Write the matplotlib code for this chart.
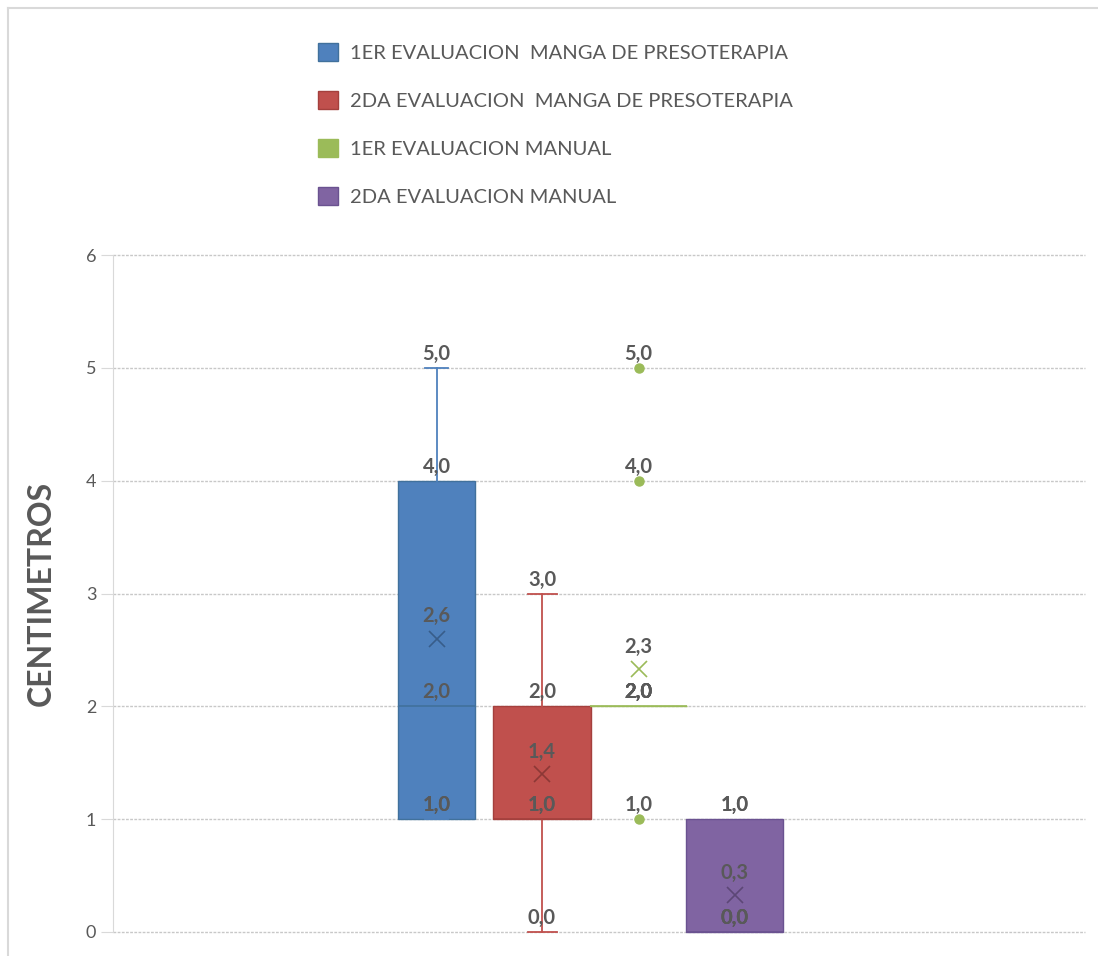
import matplotlib.pyplot as plt
from matplotlib.patches import Patch
from matplotlib.lines import Line2D

plt.rcParams['font.family'] = ['Lato', 'DejaVu Sans']

# five-number summaries per series (Excel box & whisker, one category)
series = ['1ER EVALUACION  MANGA DE PRESOTERAPIA',
          '2DA EVALUACION  MANGA DE PRESOTERAPIA',
          '1ER EVALUACION MANUAL',
          '2DA EVALUACION MANUAL']
mins = [1.0, 0.0, 2.0, 0.0]
q1s = [1.0, 1.0, 2.0, 0.0]
medians = [2.0, 1.0, 2.0, 0.0]
q3s = [4.0, 2.0, 2.0, 1.0]
maxs = [5.0, 3.0, 2.0, 1.0]
means = [2.6, 1.4, 2.33, 0.33]
outliers = [[], [], [1.0, 4.0, 5.0], []]
yticks = [0, 1, 2, 3, 4, 5, 6]

fills = ['#4F81BD', '#C0504D', '#9BBB59', '#8064A2']
edges = ['#41719C', '#A4403D', '#9BBB59', '#6A5290']
mean_cols = ['#385D8A', '#8C3836', '#9BBB59', '#5C4776']
txt = '#595959'
light = '#D9D9D9'

W, H = 1098, 956
fig = plt.figure(figsize=(W / 100, H / 100), dpi=100)
ax = fig.add_axes([113 / W, 24 / H, 972 / W, 677 / H])

# x runs in plot pixels so boxes sit where Excel put them
pos = [436.5, 542, 638.5, 734.5]
widths = [77, 98, 97, 97]
caps = [23, 29, 0, 0]

stats = []
for i in range(len(series)):
    stats.append(dict(med=medians[i], q1=q1s[i], q3=q3s[i], whislo=mins[i],
                      whishi=maxs[i], mean=means[i], fliers=outliers[i],
                      label=series[i]))

bp = ax.bxp(stats, positions=pos, widths=widths, capwidths=caps,
            patch_artist=True, showmeans=True, manage_ticks=False,
            meanprops=dict(marker='x', markersize=11, markeredgewidth=1.2),
            flierprops=dict(marker='o', markersize=6.5,
                            markerfacecolor='#9BBB59', markeredgecolor='#9BBB59'))

for i in range(len(series)):
    bp['boxes'][i].set_facecolor(fills[i])
    bp['boxes'][i].set_edgecolor(edges[i])
    bp['boxes'][i].set_linewidth(1)
    bp['medians'][i].set_color(edges[i])
    bp['medians'][i].set_linewidth(1.2)
    bp['means'][i].set_markeredgecolor(mean_cols[i])
    for ln in bp['whiskers'][2 * i:2 * i + 2] + bp['caps'][2 * i:2 * i + 2]:
        ln.set_color(fills[i])
        ln.set_linewidth(1.3)
for key in ['boxes', 'medians', 'whiskers', 'caps']:
    for art in bp[key]:
        art.set_clip_on(False)

def fmt(v):
    return f'{v:.1f}'.replace('.', ',')

for i in range(len(series)):
    vals = [mins[i], q1s[i], medians[i], q3s[i], maxs[i]] + outliers[i]
    for v in vals:
        ax.annotate(fmt(v), (pos[i], v), xytext=(0, 10), textcoords='offset points',
                    ha='center', va='center', fontsize=14.5, fontweight='bold', color=txt)
    ax.annotate(fmt(means[i]), (pos[i], means[i]), xytext=(0, 16),
                textcoords='offset points', ha='center', va='center',
                fontsize=14.5, fontweight='bold', color=txt)

ax.set_xlim(113, 1085)
ax.set_ylim(0, 6)
ax.set_yticks(yticks)
ax.set_xticks([])
ax.tick_params(axis='y', length=9, color=light, labelsize=13, labelcolor=txt, pad=3)
ax.grid(axis='y', color='#C8C8C8', linestyle=(0, (2, 1)), linewidth=1)
for gl in ax.get_ygridlines():
    gl.set_clip_on(False)
ax.set_axisbelow(True)
for s in ['top', 'right', 'bottom']:
    ax.spines[s].set_visible(False)
ax.spines['left'].set_color(light)

ax.set_ylabel('CENTIMETROS', fontsize=23, fontweight='bold', color=txt)
ax.yaxis.set_label_coords(-0.0586, 0.5)

handles = [Patch(facecolor=fills[i], edgecolor=edges[i]) for i in range(len(series))]
fig.legend(handles=handles, labels=series, loc='upper left',
           bbox_to_anchor=(318 / W, 1 - 43 / H), frameon=False, fontsize=14.5,
           handlelength=1.0, handleheight=1.0, handletextpad=0.6,
           labelspacing=1.45, borderpad=0, borderaxespad=0, labelcolor=txt)

# outer chart frame
fig.add_artist(Line2D([7.5 / W, 1], [1 - 7.5 / H, 1 - 7.5 / H], color=light, lw=1.5))
fig.add_artist(Line2D([7.5 / W, 7.5 / W], [0, 1 - 7.5 / H], color=light, lw=1.5))

fig.savefig('out.png', dpi=100)
